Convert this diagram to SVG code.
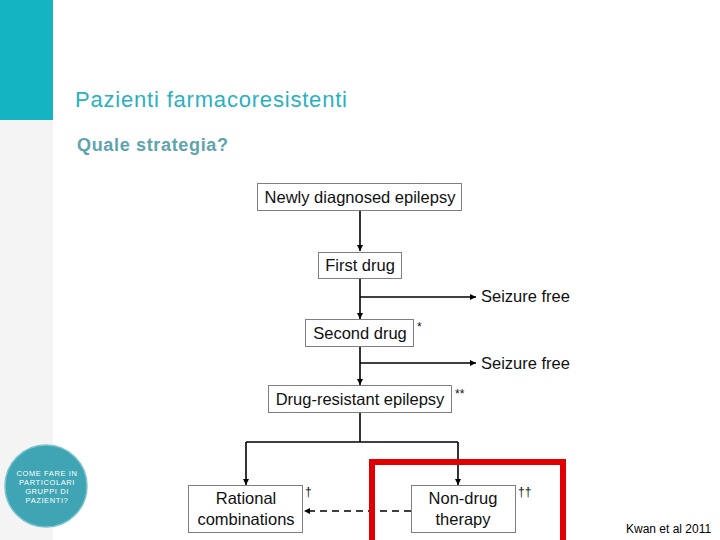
<svg xmlns="http://www.w3.org/2000/svg" width="720" height="540" viewBox="0 0 720 540">
<defs>
<style>
.box{fill:#fff;stroke:#7f7f7f;stroke-width:1}
.t{font-family:"Liberation Sans",Arial,sans-serif;font-size:16.5px;fill:#111;text-anchor:middle}
.s{font-family:"Liberation Sans",Arial,sans-serif;font-size:16.5px;fill:#111}
.n{font-family:"Liberation Sans",Arial,sans-serif;font-size:12px;fill:#111}
.c{fill:none;stroke:#000;stroke-width:1.6}
.d{stroke-dasharray:7,5}
.ct{font-family:"Liberation Sans",Arial,sans-serif;font-size:7.5px;fill:#fff;text-anchor:middle;letter-spacing:0.6px}
</style>
<marker id="ah" viewBox="0 0 10 10" refX="10" refY="5" markerWidth="4" markerHeight="4" orient="auto" markerUnits="strokeWidth">
<path d="M0,0 L10,5 L0,10 z" fill="#000"/>
</marker>
</defs>
<rect width="720" height="540" fill="#fff"/>
<rect x="0" y="0" width="53" height="540" fill="#f4f4f4"/>
<rect x="0" y="0" width="53" height="120" fill="#14b4c2"/>
<text x="75" y="107" font-family="'Liberation Sans',Arial,sans-serif" font-size="22" fill="#2ab1bf" textLength="272" lengthAdjust="spacing">Pazienti farmacoresistenti</text>
<text x="77" y="151" font-family="'Liberation Sans',Arial,sans-serif" font-size="18" font-weight="bold" fill="#5ea4ae" textLength="151" lengthAdjust="spacing">Quale strategia?</text>
<g id="badge">
<circle cx="46" cy="486" r="41" fill="#3fa4b3" stroke="#7cc3cd" stroke-width="1.5"/>
<text class="ct" x="47" y="476">COME FARE IN</text>
<text class="ct" x="47" y="485">PARTICOLARI</text>
<text class="ct" x="47" y="494">GRUPPI DI</text>
<text class="ct" x="47" y="503">PAZIENTI?</text>
</g>
<g id="connectors">
<path class="c" d="M360,210 V251" marker-end="url(#ah)"/>
<path class="c" d="M360,278 V319" marker-end="url(#ah)"/>
<path class="c" d="M360,297 H476" marker-end="url(#ah)"/>
<path class="c" d="M360,346 V385" marker-end="url(#ah)"/>
<path class="c" d="M360,363 H476" marker-end="url(#ah)"/>
<path class="c" d="M360,412 V442"/>
<path class="c" d="M246,442 H458"/>
<path class="c" d="M246,442 V485" marker-end="url(#ah)"/>
<path class="c" d="M458,442 V485" marker-end="url(#ah)"/>
<path class="c d" d="M411,511 H304" marker-end="url(#ah)"/>
</g>
<g id="n1"><rect class="box" x="257.5" y="183.5" width="204" height="27"/><text class="t" x="360" y="203">Newly diagnosed epilepsy</text></g>
<g id="n2"><rect class="box" x="318.5" y="252.5" width="83" height="26"/><text class="t" x="360" y="271">First drug</text></g>
<g id="sf1"><text class="s" x="481" y="302">Seizure free</text></g>
<g id="n3"><rect class="box" x="305.5" y="319.5" width="108" height="27"/><text class="t" x="360" y="339">Second drug</text><text class="n" x="417" y="331">*</text></g>
<g id="sf2"><text class="s" x="481" y="369">Seizure free</text></g>
<g id="n4"><rect class="box" x="268.5" y="385.5" width="183" height="27"/><text class="t" x="360" y="405">Drug-resistant epilepsy</text><text class="n" x="455" y="398">**</text></g>
<g id="n5"><rect class="box" x="188.5" y="485.5" width="114" height="47"/><text class="t" x="246" y="504">Rational</text><text class="t" x="246" y="525">combinations</text><text class="n" x="305" y="496">†</text></g>
<g id="n6"><rect class="box" x="411.5" y="485.5" width="104" height="47"/><text class="t" x="463" y="504">Non-drug</text><text class="t" x="463" y="525">therapy</text><text class="n" x="518" y="496">††</text></g>
<rect x="372" y="462" width="191" height="82" fill="none" stroke="#e00000" stroke-width="6"/>
<text x="626" y="533" font-family="'Liberation Sans',Arial,sans-serif" font-size="12" fill="#000">Kwan et al 2011</text>
</svg>
